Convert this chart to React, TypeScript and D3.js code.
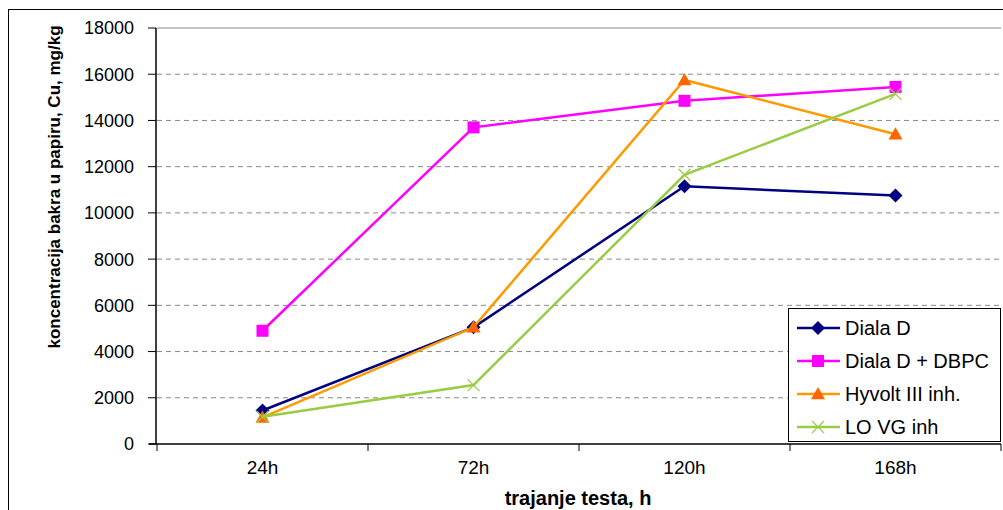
import React from "react";
import * as d3 from "d3";

const categories = ["24h", "72h", "120h", "168h"];
const dialaD = [1450, 5050, 11150, 10750];
const dialaDBPC = [4900, 13700, 14850, 15450];
const hyvolt = [1150, 5050, 15750, 13400];
const loVG = [1180, 2550, 11650, 15150];
const yTicks = [0, 2000, 4000, 6000, 8000, 10000, 12000, 14000, 16000, 18000];

const series = [
  { name: "Diala D", values: dialaD, color: "#000080", markerColor: "#000080", marker: "diamond" },
  { name: "Diala D + DBPC", values: dialaDBPC, color: "#FF00FF", markerColor: "#FF00FF", marker: "square" },
  { name: "Hyvolt III inh.", values: hyvolt, color: "#FF9900", markerColor: "#FF6600", marker: "triangle" },
  { name: "LO VG inh", values: loVG, color: "#99CC44", markerColor: "#99CC44", marker: "x" },
];

const W = 1003;
const H = 510;
const left = 157;
const right = 1001;
const top = 28;
const bottom = 444;

function Marker({ type, x, y, color }: { type: string; x: number; y: number; color: string }) {
  if (type === "diamond") {
    const s = 7;
    return <path d={`M${x},${y - s}L${x + s},${y}L${x},${y + s}L${x - s},${y}Z`} fill={color} />;
  }
  if (type === "square") {
    const s = 6;
    return <rect x={x - s} y={y - s} width={2 * s} height={2 * s} fill={color} />;
  }
  if (type === "triangle") {
    const s = 7;
    return <path d={`M${x},${y - s}L${x + s},${y + s * 0.75}L${x - s},${y + s * 0.75}Z`} fill={color} />;
  }
  const s = 6;
  return (
    <path d={`M${x - s},${y - s}L${x + s},${y + s}M${x - s},${y + s}L${x + s},${y - s}`} stroke={color} strokeWidth={1.2} fill="none" />
  );
}

export default function App() {
  const x = d3.scaleBand<string>().domain(categories).range([left, right]);
  const y = d3.scaleLinear().domain([0, 18000]).range([bottom, top]);
  const cx = (c: string) => (x(c) as number) + x.bandwidth() / 2;
  const line = d3
    .line<number>()
    .x((_, i) => cx(categories[i]))
    .y((v) => y(v));

  const font = "'Liberation Sans', Arial, sans-serif";
  const legendX = 788;
  const legendY = 308;
  const rowY = [328, 361, 394, 427];

  return (
    <svg width={W} height={H} style={{ position: "absolute", left: 0, top: 0 }} fontFamily={font}>
      <rect x={0} y={0} width={W} height={H} fill="#fff" />
      <rect x={8.5} y={9.5} width={W + 10} height={H + 10} fill="none" stroke="#000" strokeWidth={1} />
      {/* gridlines */}
      {yTicks.filter((t) => t > 0).map((t) => (
        <line
          key={t}
          x1={left}
          x2={right}
          y1={y(t)}
          y2={y(t)}
          stroke="#888"
          strokeDasharray={t === 18000 ? undefined : "5,4"}
          strokeWidth={1}
        />
      ))}
      {/* y axis */}
      <line x1={left - 1} x2={left - 1} y1={top} y2={bottom} stroke="#000" strokeWidth={1.5} />
      {yTicks.map((t) => (
        <g key={t}>
          <line x1={left - 9} x2={left - 1} y1={y(t)} y2={y(t)} stroke="#000" strokeWidth={1} />
          <text x={134} y={y(t)} dy="0.36em" textAnchor="end" fontSize={18} fill="#000">
            {t}
          </text>
        </g>
      ))}
      {/* x axis */}
      <line x1={left - 8} x2={right} y1={bottom} y2={bottom} stroke="#000" strokeWidth={1.5} />
      {categories.map((c, i) => (
        <line key={"t" + i} x1={x(c) as number} x2={x(c) as number} y1={bottom} y2={bottom + 7} stroke="#000" strokeWidth={1} />
      ))}
      <line x1={right} x2={right} y1={bottom} y2={bottom + 7} stroke="#000" strokeWidth={1} />
      {categories.map((c) => (
        <text key={c} x={cx(c)} y={474} textAnchor="middle" fontSize={19} fill="#000">
          {c}
        </text>
      ))}
      <text x={578} y={505} textAnchor="middle" fontSize={20} fontWeight="bold" fill="#000">
        trajanje testa, h
      </text>
      <text
        transform={`translate(60,187) rotate(-90)`}
        textAnchor="middle"
        fontSize={17}
        fontWeight="bold"
        fill="#000"
      >
        koncentracija bakra u papiru, Cu, mg/kg
      </text>
      {/* series */}
      {series.map((s) => (
        <g key={s.name}>
          <path d={line(s.values) as string} fill="none" stroke={s.color} strokeWidth={2.5} />
          {s.values.map((v, i) => (
            <Marker key={i} type={s.marker} x={cx(categories[i])} y={y(v)} color={s.markerColor} />
          ))}
        </g>
      ))}
      {/* legend */}
      <rect x={legendX + 0.5} y={legendY + 0.5} width={212} height={133} fill="#fff" stroke="#000" strokeWidth={1} />
      {series.map((s, i) => (
        <g key={"l" + s.name}>
          <line x1={797} x2={840} y1={rowY[i]} y2={rowY[i]} stroke={s.color} strokeWidth={2.5} />
          <Marker type={s.marker} x={818} y={rowY[i]} color={s.markerColor} />
          <text x={845} y={rowY[i]} dy="0.36em" fontSize={20} fill="#000">
            {s.name}
          </text>
        </g>
      ))}
    </svg>
  );
}
